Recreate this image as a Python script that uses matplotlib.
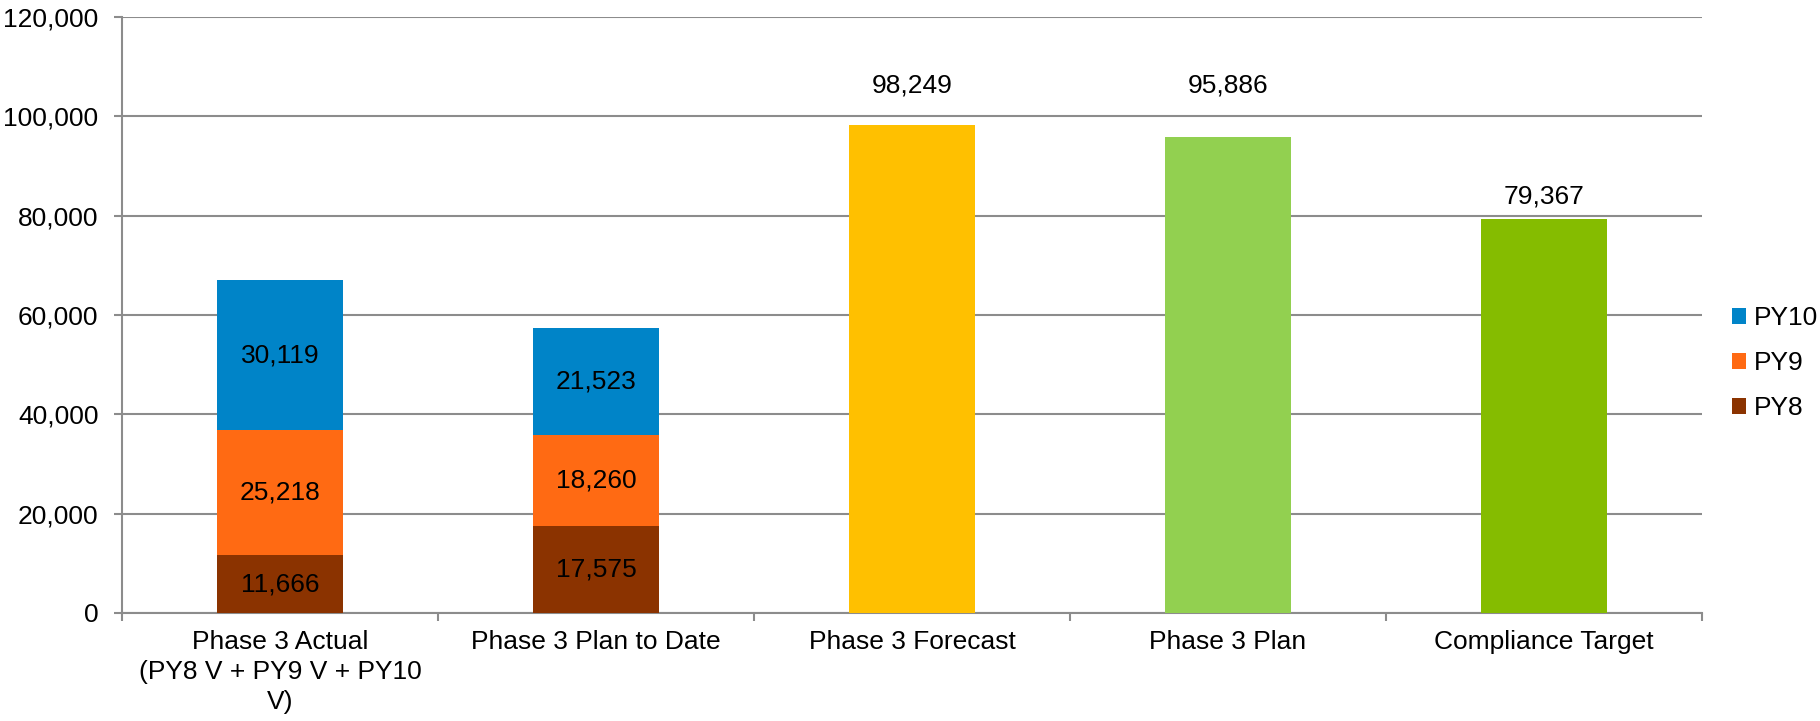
import matplotlib.pyplot as plt
import numpy as np
from matplotlib.ticker import FuncFormatter

plt.rcParams['font.family'] = ['Liberation Sans', 'DejaVu Sans']

categories = ['Phase 3 Actual\n(PY8 V + PY9 V + PY10\nV)', 'Phase 3 Plan to Date',
              'Phase 3 Forecast', 'Phase 3 Plan', 'Compliance Target']
py8 = [11666, 17575]
py9 = [25218, 18260]
py10 = [30119, 21523]
single_vals = [98249, 95886, 79367]

c_py8 = '#8B3300'
c_py9 = '#FF6A13'
c_py10 = '#0084C8'
single_colors = ['#FFC000', '#92D050', '#85BC00']
grid_c = '#8c8c8c'
fs = 19

fig = plt.figure(figsize=(18.2, 7.21), dpi=100)
ax = fig.add_axes([0.067, 0.1498, 0.8682, 0.8266])

x = np.arange(len(categories))
w = 0.4
xs = x[:2]
b8 = ax.bar(xs, py8, w, color=c_py8, label='PY8', zorder=3)
b9 = ax.bar(xs, py9, w, bottom=py8, color=c_py9, label='PY9', zorder=3)
b10 = ax.bar(xs, py10, w, bottom=np.add(py8, py9), color=c_py10, label='PY10', zorder=3)
for bars in (b8, b9, b10):
    ax.bar_label(bars, labels=[f'{int(b.get_height()):,}' for b in bars],
                 label_type='center', fontsize=fs)

bs = ax.bar(x[2:], single_vals, w, color=single_colors, zorder=3)
# label offsets above bar tops (points), as placed in the original
pads = [19.5, 28, 7.5]
for xi, v, p in zip(x[2:], single_vals, pads):
    ax.annotate(f'{v:,}', (xi, v), xytext=(0, p), textcoords='offset points',
                ha='center', va='bottom', fontsize=fs)

ax.set_xlim(-0.5, len(categories) - 0.5)
ax.set_ylim(0, 120000)
ax.set_yticks(np.arange(0, 120001, 20000))
ax.yaxis.set_major_formatter(FuncFormatter(lambda v, p: f'{int(v):,}'))
ax.grid(axis='y', color=grid_c, linewidth=1.5, zorder=0)

ax.set_xticks(np.arange(-0.5, len(categories), 1.0))
ax.set_xticklabels([])
ax.set_xticks(x, minor=True)
ax.set_xticklabels(categories, minor=True, fontsize=fs, linespacing=1.3)
ax.tick_params(axis='x', which='minor', length=0, pad=12.5)
ax.tick_params(axis='x', which='major', length=5.8, width=1.5, color=grid_c)
ax.tick_params(axis='y', length=5.8, width=1.5, color=grid_c, labelsize=fs, pad=11)

for s in ['top', 'right']:
    ax.spines[s].set_visible(False)
for s in ['left', 'bottom']:
    ax.spines[s].set_color(grid_c)
    ax.spines[s].set_linewidth(1.5)

fig.legend(handles=[b10, b9, b8], loc='center left', bbox_to_anchor=(0.9516, 0.4965),
           frameon=False, fontsize=fs, handlelength=0.55, handleheight=0.55,
           handletextpad=0.3, labelspacing=0.8, borderpad=0, borderaxespad=0)

fig.savefig('out.png', dpi=100)
